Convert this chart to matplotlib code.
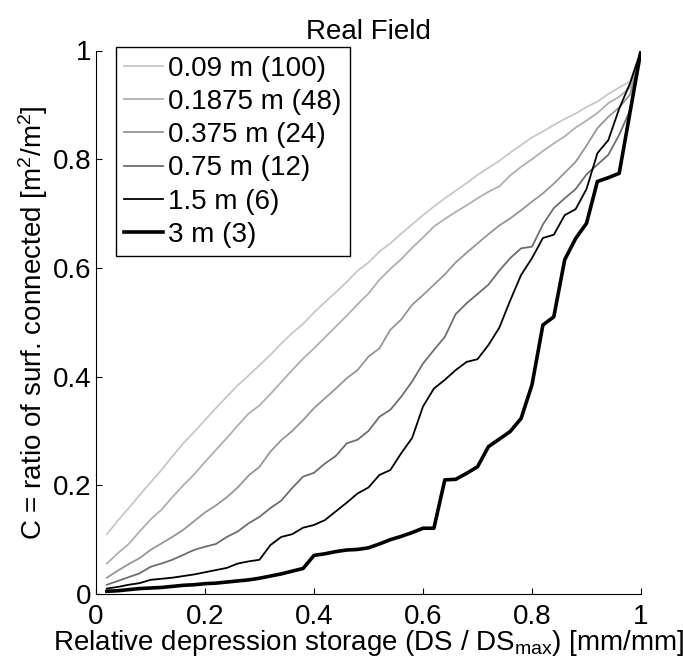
import matplotlib
matplotlib.use("Agg")
import matplotlib.pyplot as plt
from matplotlib.ticker import FuncFormatter

plt.rcParams['font.family'] = ['Liberation Sans', 'DejaVu Sans']
plt.rcParams['mathtext.fontset'] = 'custom'
plt.rcParams['mathtext.rm'] = 'Liberation Sans'
plt.rcParams['mathtext.it'] = 'Liberation Sans'

x = [0.02, 0.04, 0.06, 0.08, 0.10, 0.12, 0.14, 0.16, 0.18, 0.20,
     0.22, 0.24, 0.26, 0.28, 0.30, 0.32, 0.34, 0.36, 0.38, 0.40,
     0.42, 0.44, 0.46, 0.48, 0.50, 0.52, 0.54, 0.56, 0.58, 0.60,
     0.62, 0.64, 0.66, 0.68, 0.70, 0.72, 0.74, 0.76, 0.78, 0.80,
     0.82, 0.84, 0.86, 0.88, 0.90, 0.92, 0.94, 0.96, 0.98, 1.00]

c_009 = [0.110, 0.135, 0.158, 0.182, 0.205, 0.228, 0.253, 0.277, 0.298, 0.320,
         0.342, 0.363, 0.384, 0.402, 0.421, 0.440, 0.461, 0.480, 0.497, 0.518,
         0.537, 0.555, 0.574, 0.595, 0.610, 0.630, 0.645, 0.663, 0.680, 0.697,
         0.713, 0.728, 0.742, 0.756, 0.771, 0.784, 0.797, 0.812, 0.826, 0.840,
         0.851, 0.863, 0.874, 0.884, 0.896, 0.906, 0.920, 0.932, 0.943, 1.000]

c_01875 = [0.056, 0.075, 0.092, 0.115, 0.137, 0.155, 0.178, 0.200, 0.220, 0.243,
           0.265, 0.287, 0.310, 0.332, 0.347, 0.368, 0.390, 0.412, 0.433, 0.452,
           0.472, 0.492, 0.512, 0.533, 0.553, 0.578, 0.598, 0.616, 0.637, 0.656,
           0.676, 0.690, 0.703, 0.715, 0.728, 0.740, 0.750, 0.770, 0.786, 0.800,
           0.815, 0.829, 0.842, 0.858, 0.871, 0.885, 0.903, 0.915, 0.932, 1.000]

c_0375 = [0.030, 0.043, 0.055, 0.066, 0.081, 0.093, 0.105, 0.118, 0.134, 0.150,
          0.163, 0.178, 0.196, 0.218, 0.234, 0.262, 0.283, 0.300, 0.320, 0.342,
          0.360, 0.378, 0.397, 0.412, 0.437, 0.452, 0.486, 0.505, 0.532, 0.550,
          0.569, 0.588, 0.610, 0.628, 0.645, 0.662, 0.678, 0.691, 0.706, 0.722,
          0.737, 0.755, 0.775, 0.795, 0.825, 0.857, 0.878, 0.895, 0.919, 1.000]

c_075 = [0.017, 0.024, 0.031, 0.038, 0.050, 0.056, 0.063, 0.072, 0.081, 0.087,
         0.092, 0.105, 0.115, 0.130, 0.142, 0.158, 0.172, 0.195, 0.216, 0.223,
         0.240, 0.254, 0.277, 0.284, 0.300, 0.326, 0.339, 0.363, 0.391, 0.424,
         0.449, 0.473, 0.515, 0.535, 0.552, 0.569, 0.595, 0.618, 0.636, 0.639,
         0.680, 0.710, 0.728, 0.745, 0.772, 0.790, 0.808, 0.845, 0.890, 1.000]

c_15 = [0.010, 0.013, 0.017, 0.020, 0.026, 0.028, 0.030, 0.033, 0.036, 0.040,
        0.044, 0.048, 0.056, 0.060, 0.063, 0.090, 0.105, 0.110, 0.122, 0.127,
        0.136, 0.152, 0.168, 0.185, 0.196, 0.219, 0.228, 0.259, 0.287, 0.345,
        0.378, 0.394, 0.412, 0.427, 0.432, 0.458, 0.490, 0.540, 0.587, 0.618,
        0.655, 0.661, 0.697, 0.708, 0.745, 0.811, 0.835, 0.893, 0.940, 1.000]

c_3 = [0.005, 0.006, 0.008, 0.010, 0.011, 0.012, 0.014, 0.016, 0.017, 0.019,
       0.020, 0.022, 0.024, 0.026, 0.029, 0.033, 0.037, 0.042, 0.047, 0.071,
       0.074, 0.078, 0.081, 0.082, 0.085, 0.092, 0.100, 0.106, 0.113, 0.121,
       0.121, 0.210, 0.211, 0.222, 0.234, 0.271, 0.285, 0.299, 0.323, 0.385,
       0.495, 0.510, 0.615, 0.654, 0.682, 0.759, 0.766, 0.774, 0.887, 1.000]

labels = ['0.09 m (100)', '0.1875 m (48)', '0.375 m (24)',
          '0.75 m (12)', '1.5 m (6)', '3 m (3)']
series = [c_009, c_01875, c_0375, c_075, c_15, c_3]
colors = ['#c8c8c8', '#b0b0b0', '#969696', '#6e6e6e', '#000000', '#000000']
widths = [1.3, 1.3, 1.3, 1.3, 1.3, 2.6]

FS = 20
W, H = 683, 668
fig = plt.figure(figsize=(W / 100, H / 100), dpi=100)
ax = fig.add_axes([96 / W, 1 - 594 / H, 545 / W, 543.5 / H])

for y, lab, c, lw in zip(series, labels, colors, widths):
    ax.plot(x, y, color=c, lw=lw, label=lab)

ax.set_xlim(0, 1)
ax.set_ylim(0, 1)
ax.set_xticks([0, 0.2, 0.4, 0.6, 0.8, 1])
ax.set_yticks([0, 0.2, 0.4, 0.6, 0.8, 1])
fmt = FuncFormatter(lambda v, p: ('%g' % v))
ax.xaxis.set_major_formatter(fmt)
ax.yaxis.set_major_formatter(fmt)
ax.tick_params(direction='in', length=4, width=0.8, labelsize=FS)
ax.tick_params(axis='x', pad=7)
ax.tick_params(axis='y', pad=3)
for s in ['top', 'right']:
    ax.spines[s].set_visible(False)
for s in ['left', 'bottom']:
    ax.spines[s].set_linewidth(0.8)

ax.set_title('Real Field', fontsize=FS, pad=8)
ax.set_xlabel('Relative depression storage (DS / DS$_{\\mathrm{max}}$) [mm/mm]', fontsize=FS, labelpad=-1)
ax.set_ylabel('C = ratio of surf. connected [m$^2$/m$^2$]', fontsize=FS, labelpad=2)

leg = ax.legend(loc='upper left', bbox_to_anchor=(115.7 / W, 1 - 47.3 / H),
                bbox_transform=fig.transFigure, fontsize=FS, frameon=True,
                fancybox=False, edgecolor='black', framealpha=1,
                handlelength=1.4, handletextpad=0.2, labelspacing=0.26,
                borderpad=0.3, borderaxespad=0)
leg.get_frame().set_linewidth(1.0)

fig.savefig('out.png', dpi=100)
